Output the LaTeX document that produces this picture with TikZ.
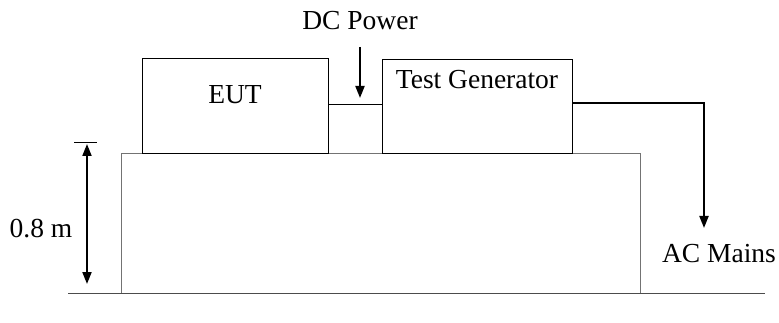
\documentclass[tikz,border=0pt]{standalone}
\usepackage{fontspec}
\setmainfont{Liberation Serif}
\usetikzlibrary{arrows.meta,calc}
\begin{document}
\begin{tikzpicture}[x=1pt,y=-1pt,
  box/.style={draw=black,line width=1pt,inner sep=0pt,anchor=north west},
  lbl/.style={font=\fontsize{27.5}{27.5}\selectfont,inner sep=0pt},
  thin/.style={line width=1pt},
  thick/.style={line width=2pt},
  tip/.style={-{Triangle[width=9pt,length=12pt]}},
  tips/.style={{Triangle[width=9pt,length=12pt]}-{Triangle[width=9pt,length=12pt]}}]
\useasboundingbox (0,0) rectangle (779,323);
% table
\node[box,draw=black!55,minimum width=519pt,minimum height=140pt] (table) at (121,153) {};
% floor
\coordinate (fl) at (68,293);
\coordinate (fr) at (765,293);
\draw[thin,black!70] (fl) -- (fr);
% EUT and generator
\node[box,minimum width=186pt,minimum height=95pt] (eut) at (142,58) {};
\node[lbl] (eutl) at (235,95) {EUT};
\node[box,minimum width=190pt,minimum height=94pt] (gen) at (382,59) {};
\node[lbl] (genl) at (477,80) {Test Generator};
% DC link
\coordinate (dcl) at (328,105);
\draw[thin] (dcl) -- (dcl -| gen.west);
\node[lbl] (dc) at (360,20.5) {DC Power};
\coordinate (dct) at (360,47);
\coordinate (dcb) at (360,98);
\draw[thick,tip] (dct) -- (dcb);
% AC mains
\coordinate (acs) at (572,103);
\coordinate (acc) at (704,103);
\coordinate (ace) at (704,228);
\draw[thick,tip] (acs) -- (acc) -- (ace);
\node[lbl] (ac) at (719,254) {AC Mains};
% height dimension
\coordinate (tk1) at (74,143);
\coordinate (tk2) at (97,143);
\draw[thin] (tk1) -- (tk2);
\coordinate (dt) at (87,144);
\coordinate (db) at (87,284);
\draw[thick,tips] (dt) -- (db);
\node[lbl] (h) at (41,228.5) {0.8 m};
\end{tikzpicture}
\end{document}
